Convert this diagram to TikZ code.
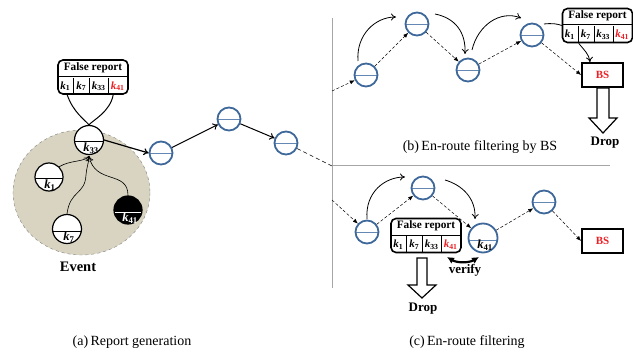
\documentclass[tikz,border=0pt]{standalone}
\usepackage{fontspec}
\setmainfont{Liberation Serif}
\usetikzlibrary{arrows.meta,calc}
\definecolor{nodeblue}{RGB}{62,104,154}
\definecolor{linblue}{RGB}{100,135,180}
\definecolor{eventbg}{RGB}{216,212,193}
\definecolor{repred}{RGB}{235,30,35}
\newcommand{\kk}[1]{\textbf{\textit{k}}\textsubscript{\textbf{#1}}}
\newcommand{\freport}[2]{%
  \node[frbox] (#1) at (#2) {};
  \draw[thin] ($(#1.north west)+(0,17)$) -- ($(#1.north east)+(0,17)$);
  \draw[thin] ($(#1.south west)+(16,0)$) -- ++(0,-17);
  \draw[thin] ($(#1.south west)+(32,0)$) -- ++(0,-17);
  \draw[thin] ($(#1.south west)+(51,0)$) -- ++(0,-17);
  \node[font=\fontsize{11.3}{12}\selectfont\bfseries,inner sep=0pt] (#1-t) at ($(#1.north)+(0,8.5)$) {False report};
  \node[keyt] (#1-a) at ($(#1.south west)+(8,-8.5)$) {\kk{1}};
  \node[keyt] (#1-b) at ($(#1.south west)+(24,-8.5)$) {\kk{7}};
  \node[keyt] (#1-c) at ($(#1.south west)+(41.5,-8.5)$) {\kk{33}};
  \node[keyt,text=repred] (#1-d) at ($(#1.south west)+(60.5,-8.5)$) {\kk{41}};
}
\begin{document}
\begin{tikzpicture}[x=1pt,y=-1pt,
  frbox/.style={draw,line width=1.6pt,rounded corners=5pt,minimum width=70pt,minimum height=34pt,inner sep=0pt,fill=white},
  keyt/.style={font=\fontsize{11}{12}\selectfont,inner sep=0pt},
  wsens/.style={circle,draw,line width=1.2pt,fill=white,minimum size=29pt,inner sep=0pt,
    path picture={\draw[line width=1pt] ([yshift=-2pt]path picture bounding box.west) -- ([yshift=-2pt]path picture bounding box.east);}},
  bsens/.style={circle,draw,line width=1.2pt,fill=black,minimum size=28pt,inner sep=0pt,
    path picture={\draw[white,line width=1pt] ([yshift=-2pt]path picture bounding box.west) -- ([yshift=-2pt]path picture bounding box.east);}},
  usens/.style={circle,draw=nodeblue,line width=1.8pt,minimum size=23pt,inner sep=0pt,
    path picture={\draw[linblue,line width=0.9pt] (path picture bounding box.west) -- (path picture bounding box.east);}},
  ksens/.style={usens,minimum size=29pt,
    path picture={\draw[linblue,line width=0.9pt] ([yshift=-2pt]path picture bounding box.west) -- ([yshift=-2pt]path picture bounding box.east);}},
  klab/.style={font=\fontsize{12.5}{13}\selectfont,inner sep=0pt},
  solidarr/.style={-{To[length=5pt,width=7pt]},line width=1pt},
  curvarr/.style={-{To[length=5pt,width=7pt]},line width=0.8pt},
  dasharr/.style={-{Latex[length=5pt,width=4pt]},dashed,line width=0.5pt,dash pattern=on 3pt off 2pt},
  bsbox/.style={draw,line width=1.8pt,minimum width=41pt,minimum height=24pt,inner sep=0pt,font=\fontsize{11}{12}\selectfont\bfseries,text=repred},
  caption/.style={font=\fontsize{14}{15}\selectfont,inner sep=0pt},
  bigb/.style={font=\fontsize{13}{14}\selectfont\bfseries,inner sep=0pt},
  droparr/.style={draw,line width=1.2pt,fill=white,line join=miter}
]
\useasboundingbox (0,0) rectangle (633,353);

% ---------- separators ----------
\draw[gray!70,line width=1pt] (332,18) -- (332,288);
\draw[gray!70,line width=1pt] (332,166) -- (610,166);

% ---------- (a) report generation ----------
\draw[gray,dashed,line width=0.4pt,fill=eventbg] (81.5,192.5) ellipse [x radius=68.5,y radius=62.5];
\node[bigb,font=\fontsize{14.5}{15}\selectfont\bfseries] (event) at (78,267) {Event};

\node[wsens] (k33) at (89,140) {};
\node[klab] (k33l) at (91,148.5) {\kk{33}};
\node[wsens,minimum size=28pt] (k1) at (49,177) {};
\node[klab] (k1l) at (50,185.5) {\kk{1}};
\node[wsens] (k7) at (67,229) {};
\node[klab] (k7l) at (69,237.5) {\kk{7}};
\node[bsens] (k41) at (128,210) {};
\node[klab,text=white] (k41l) at (130,218.5) {\kk{41}};

\coordinate (hub) at (89,156);
\draw[curvarr,line width=0.6pt] (k1.north east) .. controls (70,160) and (85,162) .. (hub);
\draw[curvarr,line width=0.6pt] (k7.north) .. controls (70,190) and (85,195) .. (86,175) .. controls (87,165) and (89,162) .. (hub);
\draw[curvarr,line width=0.6pt] (k41.north) .. controls (128,170) and (95,185) .. (hub);

\freport{fra}{93,77}
\draw[line width=1pt] ($(fra.south west)+(10,0)$) .. controls (73,112) and (85,120) .. (k33.north);
\draw[line width=1pt] ($(fra.south west)+(56,0)$) .. controls (110,112) and (93,120) .. (k33.north);

\node[usens] (a1) at (161,153) {};
\node[usens] (a2) at (229,119) {};
\node[usens] (a3) at (286,143) {};
\draw[solidarr,line width=1.2pt] (k33.east) -- (a1.west);
\draw[solidarr] (a1) -- (a2);
\draw[solidarr] (a2) -- (a3);
\coordinate (junc) at (332,166);
\draw[dashed,line width=0.5pt,dash pattern=on 4pt off 3pt] (a3) -- (junc);

\node[caption] (capa) at (132,342) {(a)\,Report generation};

% ---------- (b) en-route filtering by BS ----------
\coordinate (bin) at (332,91);
\node[usens] (b1) at (366,75) {};
\node[usens] (b2) at (417,24) {};
\node[usens] (b3) at (468,70) {};
\node[usens] (b4) at (532,35) {};
\node[bsbox] (bsb) at (602.5,75) {BS};
\draw[dasharr] (bin) -- (b1);
\draw[dasharr] (b1) -- (b2);
\draw[dasharr] (b2) -- (b3);
\draw[dasharr] (b3) -- (b4);
\draw[dasharr] (b4) -- (bsb.west);

\coordinate (b1t) at (358,61);
\coordinate (b1e) at (396,17);
\draw[curvarr] (b1t) .. controls (356,35) and (375,17) .. (b1e);
\coordinate (b2s) at (435,14);
\coordinate (b2e) at (465,54);
\draw[curvarr] (b2s) .. controls (455,18) and (466,32) .. (b2e);
\coordinate (b3s) at (472,50);
\coordinate (b3e) at (521,18);
\draw[curvarr] (b3s) .. controls (478,25) and (500,10) .. (b3e);

\freport{frb}{597.5,25.5}
\draw[line width=0.8pt] (544,24) .. controls (552,23) and (558,24) .. (frb.west);
\draw[curvarr] ($(frb.south west)+(17,0)$) .. controls (584,50) and (589,54) .. (bsb.north -| 590,0);

\draw[droparr] (597,88) -- (609,88) -- (609,118) -- (617,118) -- (603,133) -- (589,118) -- (597,118) -- cycle;
\node[bigb] (dropb) at (605,143) {Drop};

\node[caption] (capb) at (480,147) {(b)\,En-route filtering by BS};

% ---------- (c) en-route filtering ----------
\coordinate (cin) at (332,200);
\node[usens] (c1) at (367,232) {};
\node[usens] (c2) at (423,188) {};
\node[ksens] (c3) at (483,238) {};
\node[klab] (c3l) at (485,245.5) {\kk{41}};
\node[usens] (c4) at (544,202) {};
\node[bsbox] (bsc) at (602.5,241) {BS};
\draw[dasharr] (cin) -- (c1);
\draw[dasharr] (c1) -- (c2);
\draw[dasharr] (c2) -- (c3);
\draw[dasharr] (c3) -- (c4);
\draw[dasharr] (c4) -- (bsc.west);

\coordinate (c1t) at (367,219);
\coordinate (c1e) at (405,177);
\draw[curvarr] (c1t) .. controls (365,192) and (385,177) .. (c1e);
\coordinate (c2s) at (445,180);
\coordinate (c2e) at (475,219);
\draw[curvarr] (c2s) .. controls (462,185) and (476,198) .. (c2e);

\freport{frc}{426,235.5}
\coordinate (vl) at (447,257);
\coordinate (vr) at (479,257);
\draw[{Latex[length=7pt,width=7pt]}-{Latex[length=7pt,width=7pt]},line width=2.2pt] (vl) .. controls (457,263) and (469,263) .. (vr);
\node[bigb] (verify) at (465,270) {verify};

\draw[droparr] (417,258) -- (427,258) -- (427,285) -- (436,285) -- (422,298) -- (408,285) -- (417,285) -- cycle;
\node[bigb] (dropc) at (423,309) {Drop};

\node[caption] (capc) at (467,342) {(c)\,En-route filtering};
\end{tikzpicture}
\end{document}
